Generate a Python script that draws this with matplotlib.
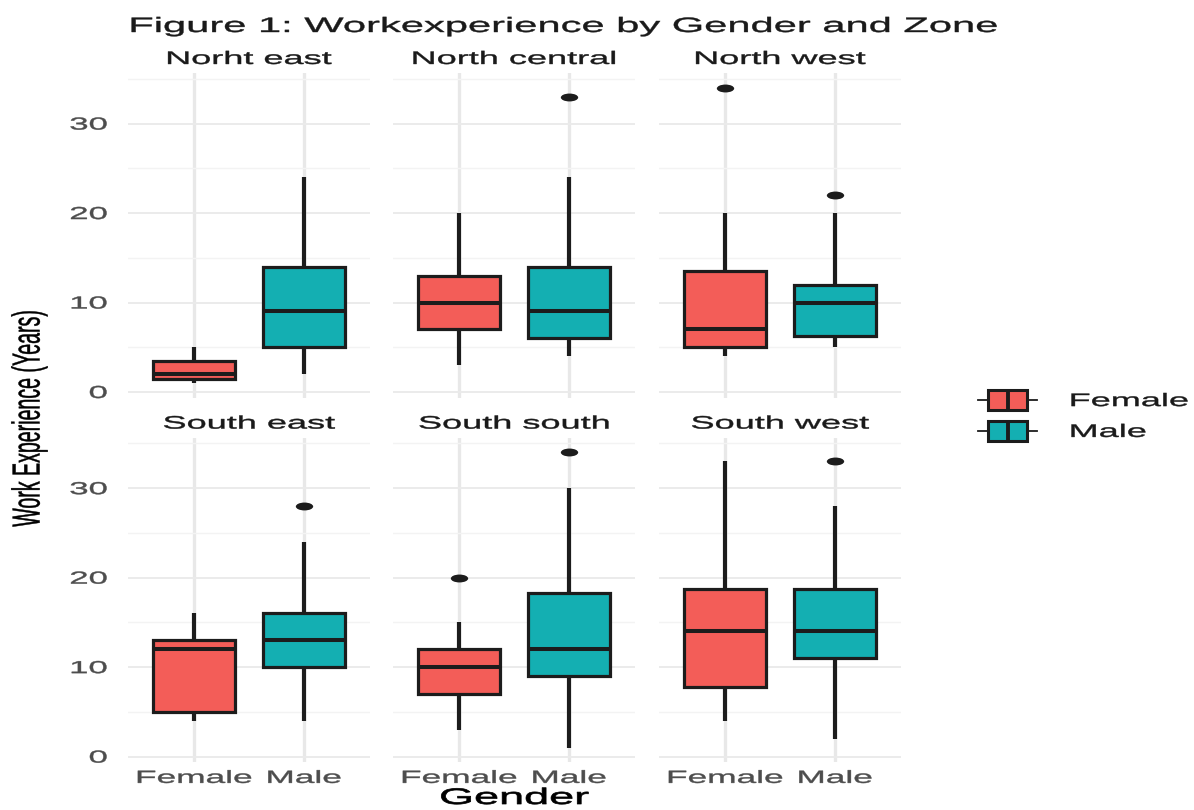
import numpy as np
import matplotlib
matplotlib.use("Agg")
import matplotlib.pyplot as plt
from matplotlib.patheffects import AbstractPathEffect
from matplotlib.transforms import Affine2D
from matplotlib.path import Path
from matplotlib.markers import MarkerStyle
from matplotlib.legend_handler import HandlerBase
from matplotlib.patches import Patch, Rectangle
from matplotlib.lines import Line2D

plt.rcParams['font.family'] = ['Liberation Sans', 'DejaVu Sans']

# ---- data -------------------------------------------------------------
zones = ["Norht east", "North central", "North west",
         "South east", "South south", "South west"]
genders = ["Female", "Male"]

female_whislo = [1, 3, 4, 4, 3, 4]
female_q1 = [1.5, 7, 5, 5, 7, 7.75]
female_med = [2, 10, 7, 12, 10, 14]
female_q3 = [3.5, 13, 13.5, 13, 12, 18.75]
female_whishi = [5, 20, 20, 16, 15, 33]
female_outliers = [[], [], [34], [], [20], []]

male_whislo = [2, 4, 5, 4, 1, 2]
male_q1 = [5, 6, 6.25, 10, 9, 11]
male_med = [9, 9, 10, 13, 12, 14]
male_q3 = [14, 14, 12, 16, 18.25, 18.75]
male_whishi = [24, 24, 20, 24, 30, 28]
male_outliers = [[], [33], [22], [28], [34], [33]]

y_ticks = [0, 10, 20, 30]
y_minor = [5, 15, 25, 35]

# ---- style ------------------------------------------------------------
W, H, DPI = 1194, 810, 100
FEMALE_COL = "#F35D58"
MALE_COL = "#14AFB2"
EDGE = "#1C1C1C"
TEXT_DARK = "#1A1A1A"
TICK_COL = "#4D4D4D"
WIDEN = 2.0


class WideText(AbstractPathEffect):
    """Draw glyph outlines widened horizontally about an anchor of the ink box,
    with a thin outline in the text colour for a heavier stroke."""

    def __init__(self, factor=2.0, anchor=0.5, stroke=0.3):
        super().__init__()
        self._factor = factor
        self._anchor = anchor
        self._stroke = stroke

    def draw_path(self, renderer, gc, tpath, affine, rgbFace=None):
        ext = tpath.get_extents(affine)
        x0 = ext.x0 + self._anchor * ext.width
        widen = Affine2D().translate(-x0, 0).scale(self._factor, 1.0).translate(x0, 0)
        gc0 = renderer.new_gc()
        gc0.copy_properties(gc)
        if rgbFace is not None:
            gc0.set_foreground(rgbFace)
        gc0.set_linewidth(self._stroke)
        renderer.draw_path(gc0, tpath, affine + widen, rgbFace)
        gc0.restore()


def wide(anchor, stroke=0.3):
    return [WideText(WIDEN, anchor, stroke)]


class BoxKey(HandlerBase):
    """Legend key: filled box with a median bar and short whisker stubs."""

    def create_artists(self, legend, orig_handle, xdescent, ydescent,
                       width, height, fontsize, trans):
        x0, y0 = -xdescent, -ydescent
        bl = x0 + 0.17 * width
        br = x0 + 0.83 * width
        cx = x0 + width / 2
        cy = y0 + height / 2
        box = Rectangle((bl, y0), br - bl, height,
                        facecolor=orig_handle.get_facecolor(),
                        edgecolor=EDGE, linewidth=2.2, transform=trans)
        med = Line2D([cx, cx], [y0, y0 + height], color=EDGE, lw=2.8,
                     solid_capstyle='butt', transform=trans)
        wl = Line2D([x0, bl], [cy, cy], color=EDGE, lw=1.3, transform=trans)
        wr = Line2D([br, x0 + width], [cy, cy], color=EDGE, lw=1.3, transform=trans)
        return [wl, wr, box, med]


outlier_marker = MarkerStyle(Path.unit_circle().transformed(Affine2D().scale(2.2, 1.0)))

fig = plt.figure(figsize=(W / DPI, H / DPI), dpi=DPI)
fig.patch.set_facecolor("white")

col_left = [128, 393, 659]
row_top = [73, 437.6]
panel_w, panel_h = 242, 324.8


def px_rect(l, t, w, h):
    return [l / W, 1 - (t + h) / H, w / W, h / H]


female_stats = list(zip(female_whislo, female_q1, female_med, female_q3,
                        female_whishi, female_outliers))
male_stats = list(zip(male_whislo, male_q1, male_med, male_q3,
                      male_whishi, male_outliers))

for i, zone in enumerate(zones):
    r, c = divmod(i, 3)
    ax = fig.add_axes(px_rect(col_left[c], row_top[r], panel_w, panel_h))
    stats = []
    for g, s in zip(genders, (female_stats[i], male_stats[i])):
        lo, q1, med, q3, hi, out = s
        stats.append(dict(whislo=lo, q1=q1, med=med, q3=q3, whishi=hi,
                          fliers=np.array(out, dtype=float), label=g))
    bp = ax.bxp(stats, positions=[1, 2], widths=0.75, patch_artist=True,
                showcaps=False, manage_ticks=False,
                boxprops=dict(edgecolor=EDGE, linewidth=2.3),
                whiskerprops=dict(color=EDGE, linewidth=3.0, solid_capstyle='butt'),
                medianprops=dict(color=EDGE, linewidth=2.9, solid_capstyle='butt'),
                flierprops=dict(marker=outlier_marker, markersize=12.5,
                                markerfacecolor=EDGE, markeredgewidth=0,
                                linestyle='none'),
                zorder=3)
    for patch, col in zip(bp['boxes'], (FEMALE_COL, MALE_COL)):
        patch.set_facecolor(col)

    ax.set_xlim(0.4, 2.6)
    ax.set_ylim(-0.65, 35.65)
    ax.set_xticks([1, 2])
    ax.set_xticklabels(genders)
    ax.set_yticks(y_ticks)
    ax.set_yticklabels([str(v) for v in y_ticks])
    ax.set_yticks(y_minor, minor=True)
    ax.set_axisbelow(True)
    ax.grid(axis='y', which='major', color='#EBEBEB', lw=1.4)
    ax.grid(axis='y', which='minor', color='#F3F3F3', lw=1.0)
    ax.grid(axis='x', which='major', color='#E8E8E8', lw=2.4)
    for sp in ax.spines.values():
        sp.set_visible(False)
    ax.tick_params(which='both', length=0)
    ax.tick_params(axis='y', labelsize=12.5, labelcolor=TICK_COL, pad=15,
                   labelleft=(c == 0))
    ax.tick_params(axis='x', labelsize=12.7, labelcolor=TICK_COL, pad=5.4,
                   labelbottom=(r == 1))
    for t in ax.get_yticklabels():
        t.set_path_effects(wide(1.0))
    for t in ax.get_xticklabels():
        t.set_path_effects(wide(0.5))
    ax.set_title(zone, fontsize=13, color=TEXT_DARK, pad=6.5,
                 path_effects=wide(0.5))

fig.text(130 / W, 1 - 32 / H, "Figure 1: Workexperience by Gender and Zone",
         ha='left', va='baseline', fontsize=15, color=TEXT_DARK,
         path_effects=wide(0.0))
fig.text(514.5 / W, 1 - 804 / H, "Gender", ha='center', va='baseline',
         fontsize=16.2, color='black', path_effects=wide(0.5, 0.5))
fig.text(29 / W, 1 - 417.7 / H, "Work Experience (Years)", rotation=90,
         ha='center', va='center', fontsize=14.1, color='black',
         path_effects=wide(0.5, 0.3))

handles = [Patch(facecolor=FEMALE_COL), Patch(facecolor=MALE_COL)]
leg = fig.legend(handles, genders, handler_map={Patch: BoxKey()},
                 loc='upper left', bbox_to_anchor=(978 / W, 1 - 390 / H),
                 frameon=False, fontsize=13, handlelength=3.27,
                 handleheight=1.33, handletextpad=1.83, labelspacing=0.6,
                 borderpad=0, borderaxespad=0)
for t in leg.get_texts():
    t.set_color(TEXT_DARK)
    t.set_path_effects(wide(0.0))

fig.savefig("out.png", dpi=DPI, facecolor="white")
